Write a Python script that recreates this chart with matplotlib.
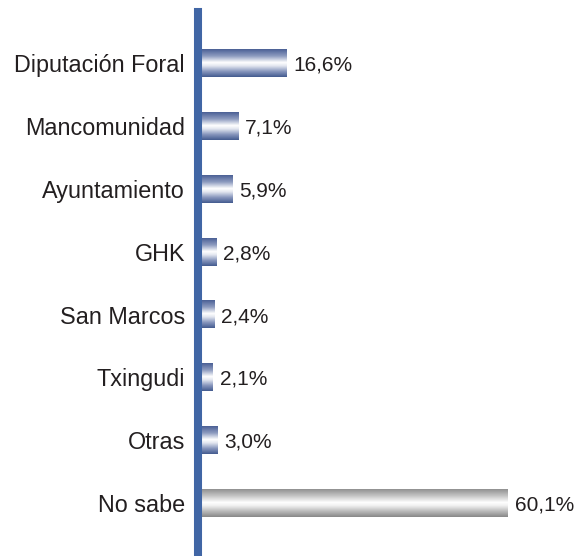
import numpy as np
import matplotlib
matplotlib.use('Agg')
import matplotlib.pyplot as plt
from matplotlib.colors import LinearSegmentedColormap
from matplotlib.transforms import offset_copy

categorias = ['Diputación Foral', 'Mancomunidad', 'Ayuntamiento', 'GHK',
              'San Marcos', 'Txingudi', 'Otras', 'No sabe']
valores = [16.6, 7.1, 5.9, 2.8, 2.4, 2.1, 3.0, 60.1]
etiquetas = ['16,6%', '7,1%', '5,9%', '2,8%', '2,4%', '2,1%', '3,0%', '60,1%']

plt.rcParams['font.family'] = ['Liberation Sans', 'DejaVu Sans']

# degradados de las barras (arriba -> abajo)
azul = LinearSegmentedColormap.from_list(
    'azul', [(0, '#4a5f95'), (0.25, '#8e9cc0'), (0.48, '#ffffff'), (0.6, '#e3e7f0'),
             (0.8, '#8796bd'), (1, '#435a8f')])
gris = LinearSegmentedColormap.from_list(
    'gris', [(0, '#909090'), (0.25, '#c6c6c6'), (0.48, '#ffffff'), (0.6, '#efefef'),
             (0.8, '#b8b8b8'), (1, '#878787')])

fig = plt.figure(figsize=(5.79, 5.56), dpi=100)
ax = fig.add_axes([202 / 579, 0, 377 / 579, 1 - 12 / 556])

y = np.arange(len(categorias))
alto = 0.445
grad = np.linspace(0, 1, 256).reshape(-1, 1)
for i, v in enumerate(valores):
    cmap = gris if categorias[i] == 'No sabe' else azul
    ax.imshow(grad, cmap=cmap, aspect='auto', origin='upper',
              extent=[0, v, y[i] + alto / 2, y[i] - alto / 2], zorder=2)

trans = offset_copy(ax.transData, fig=fig, x=7, y=-2, units='dots')
for i, v in enumerate(valores):
    ax.text(v, y[i], etiquetas[i], transform=trans, ha='left', va='center',
            fontsize=15, color='#231f20')

ax.set_xlim(0, 377 / 5.09)
ax.set_ylim(7.84, -0.81)
ax.set_yticks(y)
ax.set_yticklabels(categorias)
ax.set_xticks([])
ax.tick_params(axis='y', length=0, pad=9.4, labelsize=16.8, labelcolor='#231f20')
for s in ['top', 'right', 'bottom']:
    ax.spines[s].set_visible(False)
ax.spines['left'].set_color('#4166a5')
ax.spines['left'].set_linewidth(5.8)
ax.spines['left'].set_position(('outward', 2.9))
ax.patch.set_alpha(0)

fig.savefig('out.png', dpi=100)
